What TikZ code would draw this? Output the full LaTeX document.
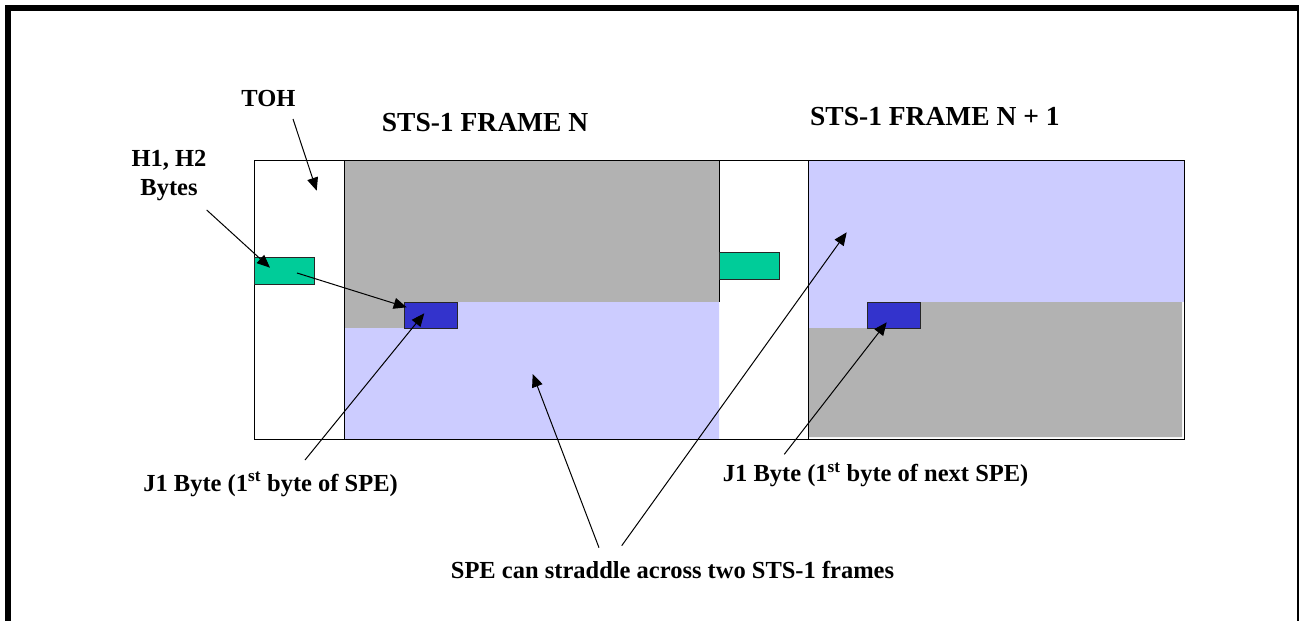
\documentclass[tikz,border=0pt]{standalone}
\usepackage{fontspec}
\setmainfont{Liberation Serif}
\usetikzlibrary{arrows.meta}
\definecolor{grayfill}{HTML}{B2B2B2}
\definecolor{lav}{HTML}{CCCCFF}
\definecolor{grn}{HTML}{00CC99}
\definecolor{blu}{HTML}{3333CC}
\begin{document}
\begin{tikzpicture}[x=1pt,y=-1pt,
  lbl/.style={font=\fontsize{24.5}{30}\selectfont\bfseries, inner sep=0pt},
  ttl/.style={font=\fontsize{27.5}{32}\selectfont\bfseries, inner sep=0pt},
  arr/.style={line width=1pt, -{Triangle[length=13pt,width=11pt]}},
  edgeline/.style={line width=1pt},
  bytebox/.style={draw=black!85, line width=1pt, inner sep=0pt, minimum width=60, minimum height=27},
  jbox/.style={draw=black!85, line width=1pt, fill=blu, inner sep=0pt, minimum width=53, minimum height=26}]
\useasboundingbox (0,0) rectangle (1299,621);
\clip (0,0) rectangle (1299,621);
\fill[white] (0,0) rectangle (1299,621);
\draw[line width=6pt] (8,640) -- (8,8) -- (1300,8) -- (1300,640);
% frame N fills
\fill[grayfill] (344,160) rectangle (719,302);
\fill[grayfill] (344,302) rectangle (404,328);
\fill[lav] (344,328) -- (404,328) -- (404,302) -- (719,302) -- (719,439) -- (344,439) -- cycle;
% frame N+1 fills
\fill[lav] (808,160) rectangle (1184,302);
\fill[lav] (808,302) rectangle (867,328);
\fill[grayfill] (808,328) -- (867,328) -- (867,302) -- (1182,302) -- (1182,437) -- (808,437) -- cycle;
% outlines
\draw[edgeline] (254,160) rectangle (1184,439);
\draw[edgeline] (344,160) -- (344,439);
\draw[edgeline] (719,160) -- (719,302);
\draw[edgeline] (808,160) -- (808,439);
% byte boxes
\node[bytebox, fill=grn] (g1) at (284,270.5) {};
\node[bytebox, fill=grn] (g2) at (749,265.5) {};
\node[jbox] (b1) at (430.5,315) {};
\node[jbox] (b2) at (893.5,315) {};
% labels
\node[lbl, anchor=base] (toh) at (268.5,106.7) {TOH};
\node[ttl, anchor=base west] (t1) at (381.7,131) {STS-1 FRAME N};
\node[ttl, anchor=base west] (t2) at (810,125) {STS-1 FRAME N + 1};
\node[lbl, align=center, font=\fontsize{24.5}{29}\selectfont\bfseries, anchor=base] (h12) at (169,195) {H1, H2\\Bytes};
\node[lbl, anchor=base east] (j1) at (398,491) {J1 Byte (1\textsuperscript{st} byte of SPE)};
\node[lbl, anchor=base west] (j2) at (722.7,481.7) {J1 Byte (1\textsuperscript{st} byte of next SPE)};
\node[lbl, anchor=base west] (spe) at (450.7,578.3) {SPE can straddle across two STS-1 frames};
% arrow ends
\coordinate (tohS) at (293,119);
\coordinate (tohE) at (316.7,190.7);
\coordinate (hS) at (206.7,210);
\coordinate (hE) at (270,267.7);
\coordinate (gS) at (297,273);
\coordinate (gE) at (406.7,307.3);
\coordinate (j1S) at (305,460);
\coordinate (j1E) at (424.3,313.3);
\coordinate (j2S) at (784.3,454.3);
\coordinate (j2E) at (886.7,322.3);
\coordinate (s1S) at (599,547.7);
\coordinate (s1E) at (532.7,374);
\coordinate (s2S) at (621.7,545.7);
\coordinate (s2E) at (846.7,232.3);
\draw[arr] (tohS) -- (tohE);
\draw[arr] (hS) -- (hE);
\draw[arr] (gS) -- (gE);
\draw[arr] (j1S) -- (j1E);
\draw[arr] (j2S) -- (j2E);
\draw[arr] (s1S) -- (s1E);
\draw[arr] (s2S) -- (s2E);
\end{tikzpicture}
\end{document}
